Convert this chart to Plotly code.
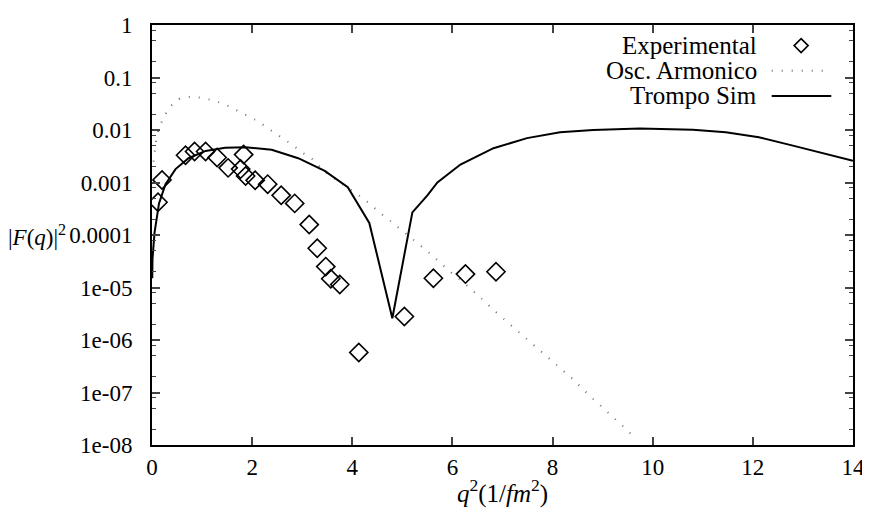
import plotly.graph_objects as go

# ---- data ----
exp_q2 = [0.12, 0.20, 0.67, 0.85, 1.07, 1.30, 1.52, 1.83, 1.77, 1.87, 2.06, 2.31, 2.58, 2.85,
          3.14, 3.30, 3.47, 3.57, 3.75, 4.13, 5.04, 5.62, 6.26, 6.87]
exp_f2 = [4.2e-4, 1.12e-3, 3.3e-3, 3.9e-3, 3.9e-3, 3.0e-3, 1.9e-3, 3.4e-3, 1.8e-3, 1.33e-3, 1.1e-3,
          9.3e-4, 5.7e-4, 4.0e-4, 1.58e-4, 5.6e-5, 2.5e-5, 1.47e-5, 1.14e-5, 5.8e-7, 2.8e-6,
          1.5e-5, 1.8e-5, 2.0e-5]

osc_q2 = [0.03, 0.08, 0.14, 0.24, 0.36, 0.54, 0.77, 1.0, 1.25, 1.48, 1.68, 1.89, 2.1, 2.3, 2.49,
          2.69, 2.82, 3.0, 3.17, 3.45, 3.91, 4.11, 4.34, 4.54, 4.81, 4.97, 5.23, 5.43, 5.61, 5.90,
          6.23, 6.57, 6.9, 7.26, 7.63, 8.0, 8.39, 8.75, 9.17, 9.51, 9.65]
osc_f2 = [2.5e-3, 6e-3, 0.011, 0.018, 0.028, 0.039, 0.043, 0.041, 0.036, 0.030, 0.024, 0.019, 0.015,
          0.011, 0.0083, 0.0063, 0.0051, 0.0037, 0.003, 1.6e-3, 8.1e-4, 5.9e-4, 4e-4, 2.7e-4, 1.7e-4,
          1.28e-4, 7.8e-5, 5.5e-5, 4e-5, 2.2e-5, 1.23e-5, 6.3e-6, 3.2e-6, 1.6e-6, 7.9e-7, 3.9e-7,
          1.85e-7, 8.5e-8, 3.6e-8, 1.85e-8, 1.3e-8]

trompo_q2 = [0.005, 0.01, 0.05, 0.14, 0.27, 0.47, 0.73, 1.07, 1.46, 1.86, 2.39, 2.92, 3.45, 3.91,
             4.34, 4.80, 5.20, 5.50, 5.70, 6.16, 6.82, 7.49, 8.15, 8.81, 9.74, 10.8, 11.46, 12.12,
             12.78, 13.44, 14.0]
trompo_f2 = [1.5e-5, 3.5e-5, 1.1e-4, 4.0e-4, 9.3e-4, 1.8e-3, 2.9e-3, 4.0e-3, 4.6e-3, 4.7e-3, 4.2e-3,
             2.9e-3, 1.66e-3, 8.1e-4, 1.7e-4, 2.6e-6, 2.7e-4, 5.7e-4, 1.0e-3, 2.2e-3, 4.5e-3, 7.0e-3,
             9.1e-3, 0.0100, 0.0107, 0.0101, 9.1e-3, 7.3e-3, 5.1e-3, 3.6e-3, 2.6e-3]

x_ticks = [0, 2, 4, 6, 8, 10, 12, 14]
y_tickvals = [1, 0.1, 0.01, 0.001, 0.0001, 1e-5, 1e-6, 1e-7, 1e-8]
y_ticktext = ["1", "0.1", "0.01", "0.001", "0.0001", "1e-05", "1e-06", "1e-07", "1e-08"]
legend_names = ["Experimental", "Osc. Armonico", "Trompo Sim"]

FONT = "Liberation Serif, Times New Roman, DejaVu Serif, serif"
FS_TICK = 23
FS_TEXT = 25
minor_vals = [m * 10 ** e for e in range(-8, 0) for m in (2, 5, 8)]
DOT = "#6e6e6e"

fig = go.Figure()
fig.add_trace(go.Scatter(x=osc_q2, y=osc_f2, mode="lines", name=legend_names[1],
                         line=dict(color=DOT, width=2, dash="1px,9px")))
fig.add_trace(go.Scatter(x=trompo_q2, y=trompo_f2, mode="lines", name=legend_names[2],
                         line=dict(color="black", width=2)))
fig.add_trace(go.Scatter(x=exp_q2, y=exp_f2, mode="markers", name=legend_names[0],
                         marker=dict(symbol="diamond-open", size=14, color="black",
                                     line=dict(width=1.6, color="black"))))

# page body has a default 8px margin, so the figure is 8px smaller and margins shifted
fig.update_layout(
    width=862, height=515,
    margin=dict(l=144, r=13, t=5, b=78),
    plot_bgcolor="white", paper_bgcolor="white",
    showlegend=False,
    font=dict(family=FONT, size=FS_TICK, color="black"),
)
fig.update_xaxes(range=[0, 14], tickvals=x_ticks, ticks="inside", ticklen=8, tickwidth=1.5,
                 showline=True, linewidth=2, linecolor="black", mirror="ticks",
                 showgrid=False, zeroline=False, ticklabeloverflow="allow",
                 tickfont=dict(family=FONT, size=FS_TICK, color="black"))
fig.update_yaxes(type="log", range=[-8, 0], tickvals=y_tickvals, ticktext=y_ticktext,
                 ticks="inside", ticklen=8, tickwidth=1.5, ticklabelstandoff=13,
                 ticklabeloverflow="allow",
                 minor=dict(tickvals=minor_vals, ticks="inside", ticklen=4, tickwidth=1.2,
                            showgrid=False),
                 showline=True, linewidth=2, linecolor="black", mirror="ticks",
                 showgrid=False, zeroline=False,
                 tickfont=dict(family=FONT, size=FS_TICK, color="black"))

# axis titles
fig.add_annotation(text="|<i>F</i>(<i>q</i>)|<sup>2</sup>", xref="paper", yref="paper",
                   x=-0.2075, y=0.5, xanchor="left", yanchor="middle", showarrow=False,
                   borderpad=0, font=dict(family=FONT, size=23, color="black"))
fig.add_annotation(text="<i>q</i><sup>2</sup>(1/<i>fm</i><sup>2</sup>)", xref="paper", yref="paper",
                   x=0.5, y=-0.11, xanchor="center", yanchor="middle", showarrow=False,
                   font=dict(family=FONT, size=FS_TEXT, color="black"))

# gnuplot-style key (text right-aligned, sample to the right)
key_y = [0.951, 0.891, 0.831]
for name, yy in zip(legend_names, key_y):
    fig.add_annotation(text=name, xref="paper", yref="paper", x=0.866, y=yy,
                       xanchor="right", yanchor="middle", showarrow=False,
                       font=dict(family=FONT, size=FS_TEXT, color="black"))
fig.add_shape(type="path", xref="paper", yref="paper", xsizemode="pixel", ysizemode="pixel",
              xanchor=0.926, yanchor=key_y[0], path="M -7,0 L 0,7 L 7,0 L 0,-7 Z",
              line=dict(color="black", width=1.6))
fig.add_shape(type="line", xref="paper", yref="paper", x0=0.884, x1=0.969, y0=key_y[1], y1=key_y[1],
              line=dict(color=DOT, width=2, dash="1px,9px"))
fig.add_shape(type="line", xref="paper", yref="paper", x0=0.884, x1=0.969, y0=key_y[2], y1=key_y[2],
              line=dict(color="black", width=2))

fig.write_html("out.html", config={"displayModeBar": False})
